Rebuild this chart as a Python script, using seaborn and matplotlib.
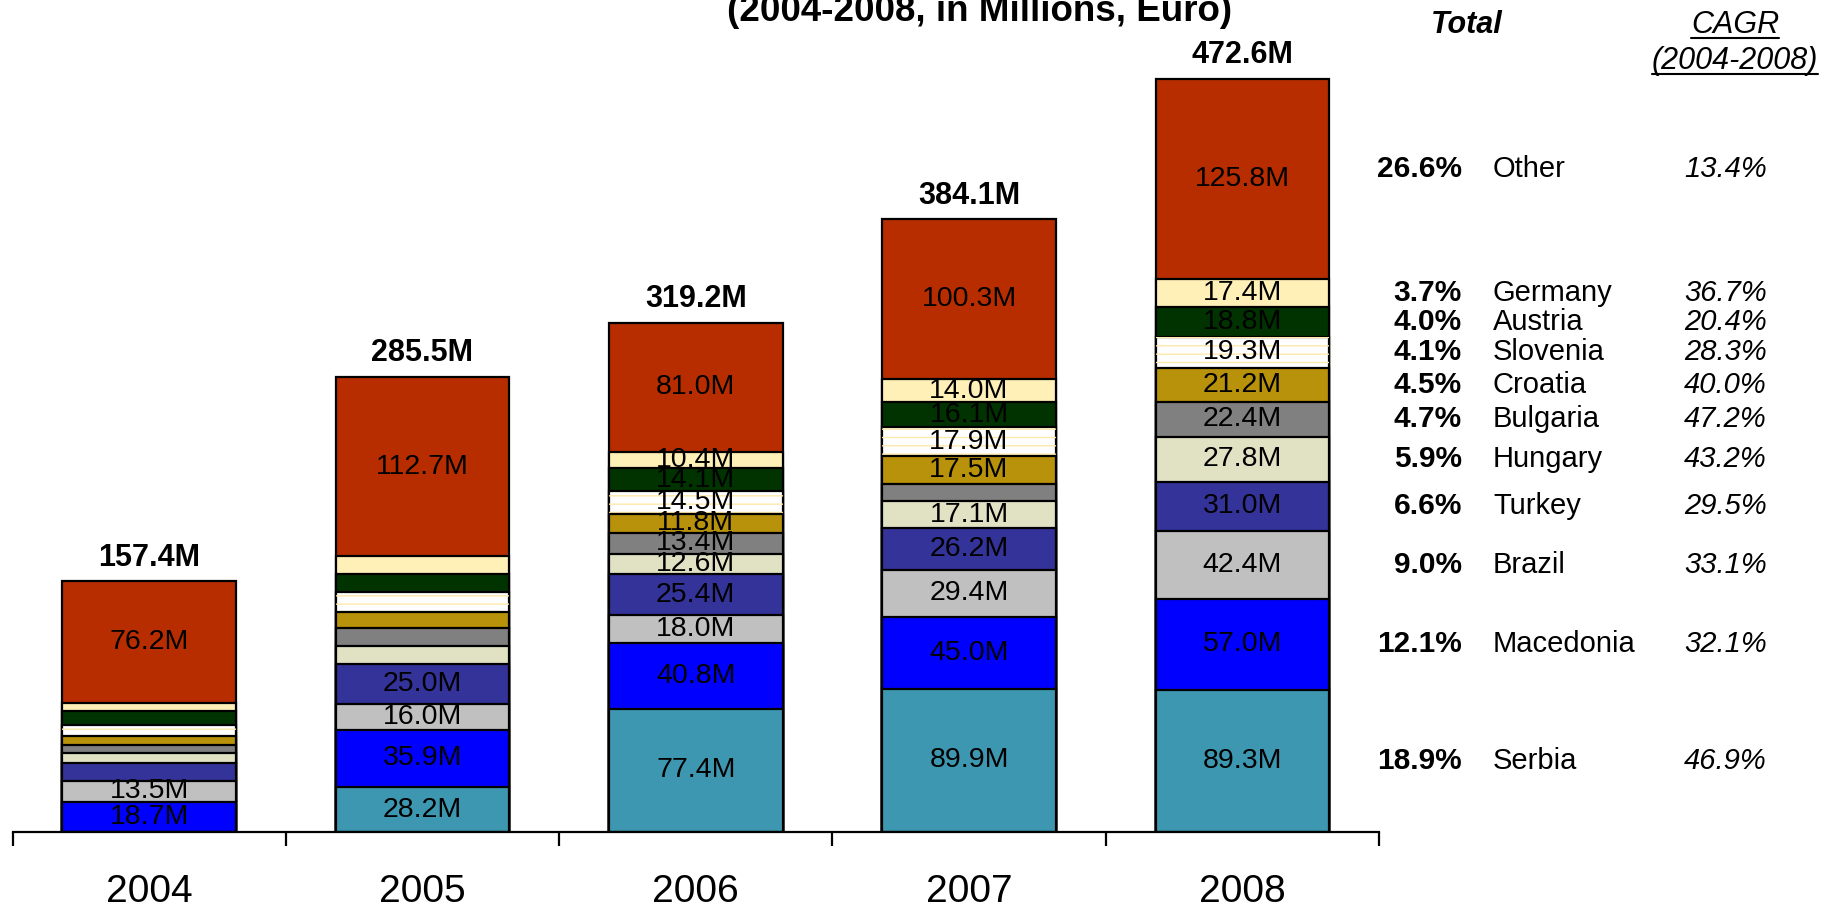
import numpy as np
import pandas as pd
import matplotlib
matplotlib.use('Agg')
import matplotlib.pyplot as plt
from matplotlib import transforms
from matplotlib.lines import Line2D
import seaborn as sns

# Chart data (millions of euro), stacked bottom -> top
years = ['2004', '2005', '2006', '2007', '2008']
countries = ['Serbia', 'Macedonia', 'Brazil', 'Turkey', 'Hungary', 'Bulgaria',
             'Croatia', 'Slovenia', 'Austria', 'Germany', 'Other']
serbia = [0.0, 28.2, 77.4, 89.9, 89.3]
macedonia = [18.7, 35.9, 40.8, 45.0, 57.0]
brazil = [13.5, 16.0, 18.0, 29.4, 42.4]
turkey = [11.0, 25.0, 25.4, 26.2, 31.0]
hungary = [6.6, 11.4, 12.6, 17.1, 27.8]
bulgaria = [4.8, 11.5, 13.4, 10.7, 22.4]
croatia = [5.5, 9.7, 11.8, 17.5, 21.2]
slovenia = [7.1, 12.7, 14.5, 17.9, 19.3]
austria = [8.9, 11.5, 14.1, 16.1, 18.8]
germany = [5.0, 10.9, 10.4, 14.0, 17.4]
other = [76.2, 112.7, 81.0, 100.3, 125.8]
totals = [157.4, 285.5, 319.2, 384.1, 472.6]
cagr = ['46.9%', '32.1%', '33.1%', '29.5%', '43.2%', '47.2%',
        '40.0%', '28.3%', '20.4%', '36.7%', '13.4%']

# which segment values are printed inside the bars (1 = shown)
show_2004 = [0, 1, 1, 0, 0, 0, 0, 0, 0, 0, 1]
show_2005 = [1, 1, 1, 1, 0, 0, 0, 0, 0, 0, 1]
show_2006 = [1, 1, 1, 1, 1, 1, 1, 1, 1, 1, 1]
show_2007 = [1, 1, 1, 1, 1, 0, 1, 1, 1, 1, 1]
show_2008 = [1, 1, 1, 1, 1, 1, 1, 1, 1, 1, 1]

colors = ['#3E97B0', '#0000FF', '#C0C0C0', '#333399', '#E1E1C4', '#808080',
          '#B8920A', '#FFFFFF', '#003300', '#FFF0B8', '#B82D00']

values = np.array([serbia, macedonia, brazil, turkey, hungary, bulgaria,
                   croatia, slovenia, austria, germany, other])
show = np.array([show_2004, show_2005, show_2006, show_2007, show_2008]).T
cum = values.cumsum(axis=0)

sns.set_style('white')
plt.rcParams['font.family'] = ['Liberation Sans', 'DejaVu Sans']
plt.rcParams['text.color'] = 'black'
plt.rcParams['xtick.color'] = 'black'
plt.rcParams['xtick.labelcolor'] = 'black'

fig = plt.figure(figsize=(18.29, 9.10), dpi=100)
ax = fig.add_axes([12.5 / 1829, 78 / 910, 1366.5 / 1829, 797.5 / 910])

# stacked bars: draw cumulative heights from top layer down
for i in reversed(range(len(countries))):
    df = pd.DataFrame({'year': years, 'value': cum[i]})
    sns.barplot(data=df, x='year', y='value', color=colors[i], saturation=1,
                width=0.635, edgecolor='black', linewidth=1.6, errorbar=None, ax=ax)
    if countries[i] == 'Slovenia':
        sns.barplot(data=df, x='year', y='value', fill=False, hatch='--',
                    edgecolor='#FFE9A8', linewidth=0, width=0.635,
                    errorbar=None, ax=ax)

# segment labels
for j in range(len(years)):
    for i in range(len(countries)):
        if show[i, j]:
            mid = cum[i, j] - values[i, j] / 2
            ax.text(j, mid, f'{values[i, j]:.1f}M', ha='center', va='center',
                    fontsize=20.5, color='black')
    ax.annotate(f'{totals[j]:.1f}M', (j, cum[-1, j]), xytext=(0, 6),
                textcoords='offset points', ha='center', va='bottom',
                fontsize=22, fontweight='bold', annotation_clip=False)

ax.set_xlim(-0.5, 4.5)
ax.set_ylim(0, 500)
ax.set_yticks([])
ax.set_xlabel('')
ax.set_ylabel('')
for s in ['top', 'right', 'left']:
    ax.spines[s].set_visible(False)
ax.spines['bottom'].set_linewidth(1.6)
ax.spines['bottom'].set_color('black')
ax.set_xticks(range(len(years)))
ax.set_xticklabels(years)
ax.set_xticks(np.arange(-0.5, 5, 1), minor=True)
ax.tick_params(axis='x', which='major', length=0, pad=30, labelsize=28,
               labelcolor='black')
ax.tick_params(axis='x', which='minor', length=10, width=1.6, direction='out',
               color='black', bottom=True)

# title (upper part cropped in the original)
fig.text(980 / 1829, 1 - 21 / 910, '(2004-2008, in Millions, Euro)', ha='center',
         va='baseline', fontsize=26.5, fontweight='bold')

# right-hand table
trans = transforms.blended_transform_factory(fig.transFigure, ax.transData)
share = values[:, -1] / totals[-1] * 100
for i in range(len(countries)):
    y = cum[i, -1] - values[i, -1] / 2
    if countries[i] == 'Other':
        y += 6
    ax.text(1462 / 1829, y, f'{share[i]:.1f}%', transform=trans, ha='right',
            va='center', fontsize=21.5, fontweight='bold')
    ax.text(1493 / 1829, y, countries[i], transform=trans, ha='left',
            va='center', fontsize=21)
    ax.text(1767 / 1829, y, cagr[i], transform=trans, ha='right',
            va='center', fontsize=21, style='italic')

fig.text(1467 / 1829, 1 - 25 / 910, 'Total', ha='center', va='center',
         fontsize=22, fontweight='bold', style='italic')
t1 = fig.text(1735 / 1829, 1 - 25 / 910, 'CAGR', ha='center', va='center',
              fontsize=22, style='italic')
t2 = fig.text(1735 / 1829, 1 - 61 / 910, '(2004-2008)', ha='center', va='center',
              fontsize=22, style='italic')

# underline the CAGR header
fig.canvas.draw()
inv = fig.transFigure.inverted()
for t in [t1, t2]:
    bb = t.get_window_extent()
    (x0, y0), (x1, _) = inv.transform([(bb.x0, bb.y0 + 2), (bb.x1, bb.y0 + 2)])
    fig.add_artist(Line2D([x0, x1], [y0, y0], color='black', linewidth=1.5,
                          transform=fig.transFigure))

fig.savefig('out.png', dpi=100)
